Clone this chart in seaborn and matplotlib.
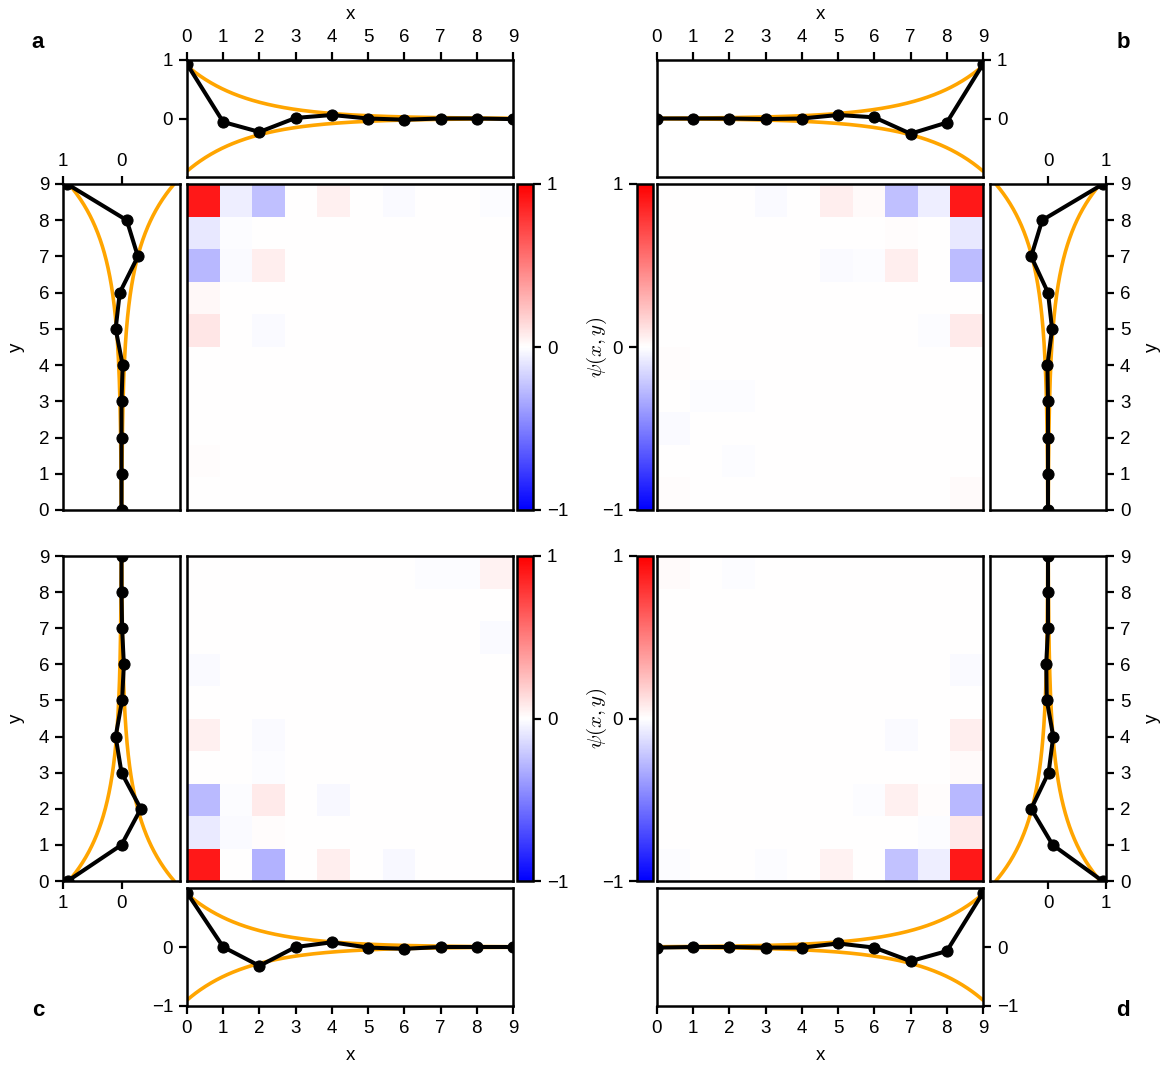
import matplotlib

matplotlib.use("Agg")
import matplotlib.pyplot as plt
import numpy as np
import seaborn as sns

W, H = 1161, 1067

SITES = list(range(10))

# heatmap cells, rows listed top (y=9) to bottom (y=0), columns x=0..9
PSI_A = [
    [0.90, -0.07, -0.25, 0.00, 0.06, 0.00, -0.02, 0.00, 0.00, -0.01],
    [-0.09, -0.01, 0.00, 0.00, 0.00, 0.00, 0.00, 0.00, 0.00, 0.00],
    [-0.28, -0.02, 0.07, 0.00, 0.00, 0.00, 0.00, 0.00, 0.00, 0.00],
    [0.03, 0.00, 0.00, 0.00, 0.00, 0.00, 0.00, 0.00, 0.00, 0.00],
    [0.10, 0.00, -0.02, 0.00, 0.00, 0.00, 0.00, 0.00, 0.00, 0.00],
    [0.00, 0.00, 0.00, 0.00, 0.00, 0.00, 0.00, 0.00, 0.00, 0.00],
    [0.00, 0.00, 0.00, 0.00, 0.00, 0.00, 0.00, 0.00, 0.00, 0.00],
    [0.00, 0.00, 0.00, 0.00, 0.00, 0.00, 0.00, 0.00, 0.00, 0.00],
    [0.01, 0.00, 0.00, 0.00, 0.00, 0.00, 0.00, 0.00, 0.00, 0.00],
    [0.00, 0.00, 0.00, 0.00, 0.00, 0.00, 0.00, 0.00, 0.00, 0.00],
]
PSI_B = [
    [0.00, 0.00, 0.00, -0.02, 0.00, 0.07, 0.02, -0.25, -0.07, 0.90],
    [0.00, 0.00, 0.00, 0.00, 0.00, 0.00, 0.00, 0.01, 0.00, -0.09],
    [0.00, 0.00, 0.00, 0.00, 0.00, -0.02, -0.01, 0.07, 0.00, -0.26],
    [0.00, 0.00, 0.00, 0.00, 0.00, 0.00, 0.00, 0.00, 0.00, 0.00],
    [0.00, 0.00, 0.00, 0.00, 0.00, 0.00, 0.00, 0.00, -0.01, 0.08],
    [0.01, 0.00, 0.00, 0.00, 0.00, 0.00, 0.00, 0.00, 0.00, 0.00],
    [0.00, -0.01, -0.01, 0.00, 0.00, 0.00, 0.00, 0.00, 0.00, 0.00],
    [-0.02, 0.00, 0.00, 0.00, 0.00, 0.00, 0.00, 0.00, 0.00, 0.00],
    [0.00, 0.00, -0.01, 0.00, 0.00, 0.00, 0.00, 0.00, 0.00, 0.00],
    [0.01, 0.00, 0.00, 0.00, 0.00, 0.00, 0.00, 0.00, 0.00, 0.02],
]
PSI_C = [
    [0.00, 0.00, 0.00, 0.00, 0.00, 0.00, 0.00, -0.01, -0.01, 0.05],
    [0.00, 0.00, 0.00, 0.00, 0.00, 0.00, 0.00, 0.00, 0.00, 0.00],
    [0.00, 0.00, 0.00, 0.00, 0.00, 0.00, 0.00, 0.00, 0.00, -0.02],
    [-0.02, 0.00, 0.00, 0.00, 0.00, 0.00, 0.00, 0.00, 0.00, 0.00],
    [0.00, 0.00, 0.00, 0.00, 0.00, 0.00, 0.00, 0.00, 0.00, 0.00],
    [0.06, 0.00, -0.02, 0.00, 0.00, 0.00, 0.00, 0.00, 0.00, 0.00],
    [0.00, 0.00, -0.01, 0.00, 0.00, 0.00, 0.00, 0.00, 0.00, 0.00],
    [-0.27, -0.01, 0.08, 0.00, -0.03, 0.00, 0.00, 0.00, 0.00, 0.00],
    [-0.08, -0.02, 0.01, 0.00, 0.00, 0.00, 0.00, 0.00, 0.00, 0.00],
    [0.90, 0.00, -0.30, 0.00, 0.07, 0.00, -0.03, 0.00, 0.00, 0.00],
]
PSI_D = [
    [0.02, 0.00, -0.01, 0.00, 0.00, 0.00, 0.00, 0.00, 0.00, 0.00],
    [0.00, 0.00, 0.00, 0.00, 0.00, 0.00, 0.00, 0.00, 0.00, 0.00],
    [0.00, 0.00, 0.00, 0.00, 0.00, 0.00, 0.00, 0.00, 0.00, 0.00],
    [0.00, 0.00, 0.00, 0.00, 0.00, 0.00, 0.00, 0.00, 0.00, -0.02],
    [0.00, 0.00, 0.00, 0.00, 0.00, 0.00, 0.00, 0.00, 0.00, 0.00],
    [0.00, 0.00, 0.00, 0.00, 0.00, 0.00, 0.00, -0.02, 0.00, 0.07],
    [0.00, 0.00, 0.00, 0.00, 0.00, 0.00, 0.00, 0.00, 0.00, 0.02],
    [0.00, 0.00, 0.00, 0.00, 0.00, 0.00, -0.01, 0.06, 0.01, -0.28],
    [0.00, 0.00, 0.00, 0.00, 0.00, 0.00, 0.00, 0.00, -0.01, 0.08],
    [-0.01, 0.00, 0.00, -0.01, 0.00, 0.05, 0.00, -0.24, -0.07, 0.90],
]

# edge profiles, indexed by site 0..9
TOP_A = [0.93, -0.06, -0.23, 0.01, 0.06, 0.00, -0.02, 0.00, 0.00, -0.01]
LEFT_A = [0.00, 0.00, 0.00, 0.00, -0.02, 0.10, 0.03, -0.28, -0.09, 0.93]
TOP_B = [0.00, 0.00, 0.00, -0.01, 0.00, 0.06, 0.02, -0.26, -0.07, 0.93]
RIGHT_B = [0.00, 0.00, 0.00, 0.00, -0.01, 0.07, 0.00, -0.29, -0.10, 0.95]
LEFT_C = [0.92, 0.00, -0.33, 0.00, 0.10, -0.01, -0.04, -0.01, 0.00, 0.00]
BOTTOM_C = [0.92, 0.00, -0.32, 0.00, 0.08, -0.01, -0.03, 0.00, 0.00, 0.00]
BOTTOM_D = [-0.01, 0.00, 0.00, -0.01, -0.01, 0.06, -0.01, -0.24, -0.07, 0.92]
RIGHT_D = [0.94, 0.08, -0.29, 0.01, 0.09, -0.02, -0.03, 0.00, 0.00, 0.00]

ENVELOPE_AMP = 0.9
ENVELOPE_LENGTH = 1.7

sns.set_theme(style="ticks")
plt.rcParams["font.family"] = ["Liberation Sans", "DejaVu Sans"]
plt.rcParams["mathtext.fontset"] = "cm"
plt.rcParams["axes.linewidth"] = 1.8
plt.rcParams["axes.edgecolor"] = "black"
plt.rcParams["xtick.color"] = "black"
plt.rcParams["ytick.color"] = "black"
plt.rcParams["text.color"] = "black"
plt.rcParams["axes.labelcolor"] = "black"

FS = 13.5
LW = 2.6


def box(x0, y0, x1, y1):
    return [x0 / W, 1 - y1 / H, (x1 - x0) / W, (y1 - y0) / H]


def style_ticks(ax):
    ax.tick_params(direction="out", length=6, width=1.6, labelsize=FS, pad=4)


def envelope(dist):
    return ENVELOPE_AMP * np.exp(-dist / ENVELOPE_LENGTH)


def horizontal_profile(ax, values, from_left, top, ticks_right):
    xs = np.linspace(0, 9, 300)
    env = envelope(xs if from_left else 9 - xs)
    ax.plot(xs, env, color="orange", lw=LW, zorder=1)
    ax.plot(xs, -env, color="orange", lw=LW, zorder=1)
    sns.lineplot(x=SITES, y=values, ax=ax, color="black", lw=LW + 0.3, marker="o",
                 markersize=8, markeredgecolor="black", sort=False,
                 estimator=None, zorder=3)
    ax.set_xlim(0, 9)
    ax.set_ylim(-1, 1)
    ax.set_xticks(SITES)
    ax.set_yticks([0, 1] if top else [-1, 0])
    ax.set_ylabel("")
    if top:
        ax.xaxis.tick_top()
        ax.xaxis.set_label_position("top")
    ax.set_xlabel("x", fontsize=FS, labelpad=7)
    if ticks_right:
        ax.yaxis.tick_right()
    style_ticks(ax)


def vertical_profile(ax, values, from_bottom, left, ticks_top):
    ys = np.linspace(0, 9, 300)
    env = envelope(ys if from_bottom else 9 - ys)
    ax.plot(env, ys, color="orange", lw=LW, zorder=1)
    ax.plot(-env, ys, color="orange", lw=LW, zorder=1)
    sns.lineplot(x=values, y=SITES, ax=ax, color="black", lw=LW + 0.3, marker="o",
                 markersize=8, markeredgecolor="black", sort=False,
                 estimator=None, orient="y", zorder=3)
    ax.set_xlim((1, -1) if left else (-1, 1))
    ax.set_ylim(0, 9)
    ax.set_xticks([0, 1])
    ax.set_yticks(SITES)
    ax.set_xlabel("")
    if ticks_top:
        ax.xaxis.tick_top()
    if not left:
        ax.yaxis.tick_right()
        ax.yaxis.set_label_position("right")
    ax.set_ylabel("y", fontsize=FS, labelpad=10)
    style_ticks(ax)


def draw_map(ax, cax, psi, cbar_left, label):
    sns.heatmap(np.array(psi), ax=ax, cmap="bwr", vmin=-1, vmax=1,
                cbar_ax=cax, xticklabels=False, yticklabels=False)
    for spine in ax.spines.values():
        spine.set_visible(True)
        spine.set_linewidth(1.8)
        spine.set_color("black")
    ax.tick_params(length=0)
    cbar = ax.collections[0].colorbar
    cbar.set_ticks([-1, 0, 1])
    cbar.outline.set_linewidth(1.8)
    cbar.outline.set_edgecolor("black")
    if cbar_left:
        cax.yaxis.set_ticks_position("left")
        cax.yaxis.set_label_position("left")
    if label:
        cax.set_ylabel(r"$\psi(x, y)$", fontsize=FS + 1.5, labelpad=12)
    style_ticks(cax)


fig = plt.figure(figsize=(W / 100, H / 100), dpi=100)

# panel a
ax_map = fig.add_axes(box(187, 184, 513, 510))
ax_cb = fig.add_axes(box(517, 184, 533, 510))
draw_map(ax_map, ax_cb, PSI_A, cbar_left=False, label=True)
horizontal_profile(fig.add_axes(box(187, 60, 513, 177)), TOP_A, True, True, False)
vertical_profile(fig.add_axes(box(63, 184, 180, 510)), LEFT_A, False, True, True)

# panel b
ax_map = fig.add_axes(box(657, 184, 983, 510))
ax_cb = fig.add_axes(box(637, 184, 653, 510))
draw_map(ax_map, ax_cb, PSI_B, cbar_left=True, label=False)
horizontal_profile(fig.add_axes(box(657, 60, 983, 177)), TOP_B, False, True, True)
vertical_profile(fig.add_axes(box(990, 184, 1106, 510)), RIGHT_B, False, False, True)

# panel c
ax_map = fig.add_axes(box(187, 556, 513, 881))
ax_cb = fig.add_axes(box(517, 556, 533, 881))
draw_map(ax_map, ax_cb, PSI_C, cbar_left=False, label=True)
horizontal_profile(fig.add_axes(box(187, 888, 513, 1006)), BOTTOM_C, True, False, False)
vertical_profile(fig.add_axes(box(63, 556, 180, 881)), LEFT_C, True, True, False)

# panel d
ax_map = fig.add_axes(box(657, 556, 983, 881))
ax_cb = fig.add_axes(box(637, 556, 653, 881))
draw_map(ax_map, ax_cb, PSI_D, cbar_left=True, label=False)
horizontal_profile(fig.add_axes(box(657, 888, 983, 1006)), BOTTOM_D, False, False, True)
vertical_profile(fig.add_axes(box(990, 556, 1106, 881)), RIGHT_D, True, False, False)

for letter, (px, py) in zip("abcd", [(38, 43), (1123, 43), (38, 1010), (1123, 1010)]):
    fig.text(px / W, 1 - py / H, letter, fontsize=16, fontweight="bold",
             ha="center", va="center")

fig.savefig("out.png", dpi=100)
plt.close(fig)
